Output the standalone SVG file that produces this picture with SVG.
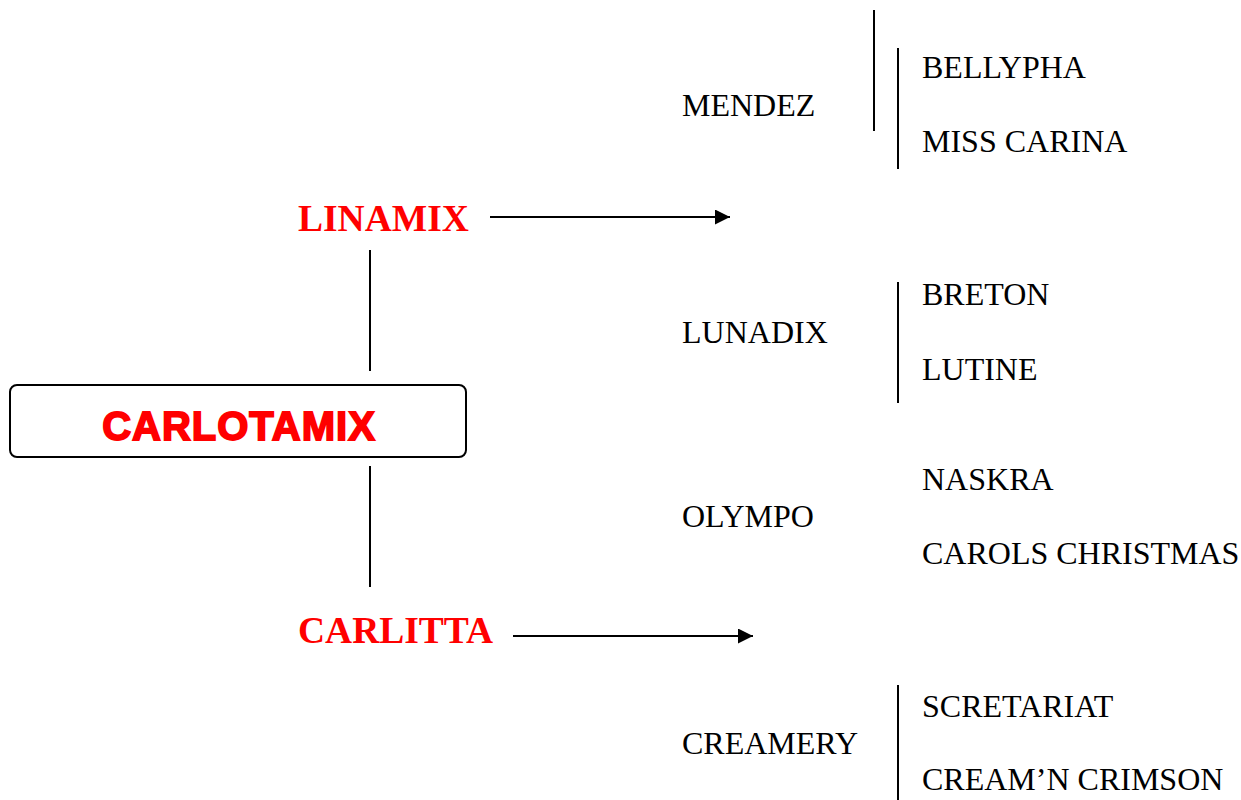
<svg xmlns="http://www.w3.org/2000/svg" width="1241" height="800" viewBox="0 0 1241 800">
<style>
.ln{stroke:#000;stroke-width:2;fill:none}
.lab{font-family:"Liberation Serif","Times New Roman",serif;font-size:32px;fill:#000}
.red{font-family:"Liberation Serif","Times New Roman",serif;font-size:37.5px;font-weight:bold;fill:#ff0000}
.main{font-family:"Liberation Sans",Arial,sans-serif;font-size:40px;font-weight:bold;fill:#ff0000;stroke:#ff0000;stroke-width:1.8;letter-spacing:1px}
</style>
<defs>
<marker id="ah" markerWidth="15" markerHeight="15" refX="15" refY="7.5" orient="auto" markerUnits="userSpaceOnUse">
<path d="M0,0 L15,7.5 L0,15 Z" fill="#000"/>
</marker>
</defs>
<rect width="1241" height="800" fill="#fff"/>
<g id="connectors">
<line class="ln" x1="370" y1="250" x2="370" y2="371"/>
<line class="ln" x1="370" y1="466" x2="370" y2="587"/>
<line class="ln" x1="490" y1="217" x2="730" y2="217" marker-end="url(#ah)"/>
<line class="ln" x1="513" y1="636" x2="753" y2="636" marker-end="url(#ah)"/>
<line class="ln" x1="874" y1="10" x2="874" y2="131"/>
<line class="ln" x1="898" y1="48" x2="898" y2="169"/>
<line class="ln" x1="898" y1="282" x2="898" y2="403"/>
<line class="ln" x1="898" y1="685" x2="898" y2="800"/>
</g>
<g id="carlotamix">
<rect x="10" y="385" width="456" height="72" rx="7" ry="7" fill="#fff" stroke="#000" stroke-width="2"/>
<text class="main" x="239" y="440" text-anchor="middle">CARLOTAMIX</text>
</g>
<g id="linamix"><text class="red" x="298" y="231">LINAMIX</text></g>
<g id="carlitta"><text class="red" x="298" y="643">CARLITTA</text></g>
<g id="mendez"><text class="lab" x="682" y="116">MENDEZ</text></g>
<g id="bellypha"><text class="lab" x="922" y="78">BELLYPHA</text></g>
<g id="misscarina"><text class="lab" x="922" y="152">MISS CARINA</text></g>
<g id="lunadix"><text class="lab" x="682" y="343">LUNADIX</text></g>
<g id="breton"><text class="lab" x="922" y="305">BRETON</text></g>
<g id="lutine"><text class="lab" x="922" y="380">LUTINE</text></g>
<g id="olympo"><text class="lab" x="682" y="527">OLYMPO</text></g>
<g id="naskra"><text class="lab" x="922" y="490">NASKRA</text></g>
<g id="carols"><text class="lab" x="922" y="564">CAROLS CHRISTMAS</text></g>
<g id="creamery"><text class="lab" x="682" y="754">CREAMERY</text></g>
<g id="scretariat"><text class="lab" x="922" y="717">SCRETARIAT</text></g>
<g id="creamncrimson"><text class="lab" x="922" y="790">CREAM’N CRIMSON</text></g>
</svg>
